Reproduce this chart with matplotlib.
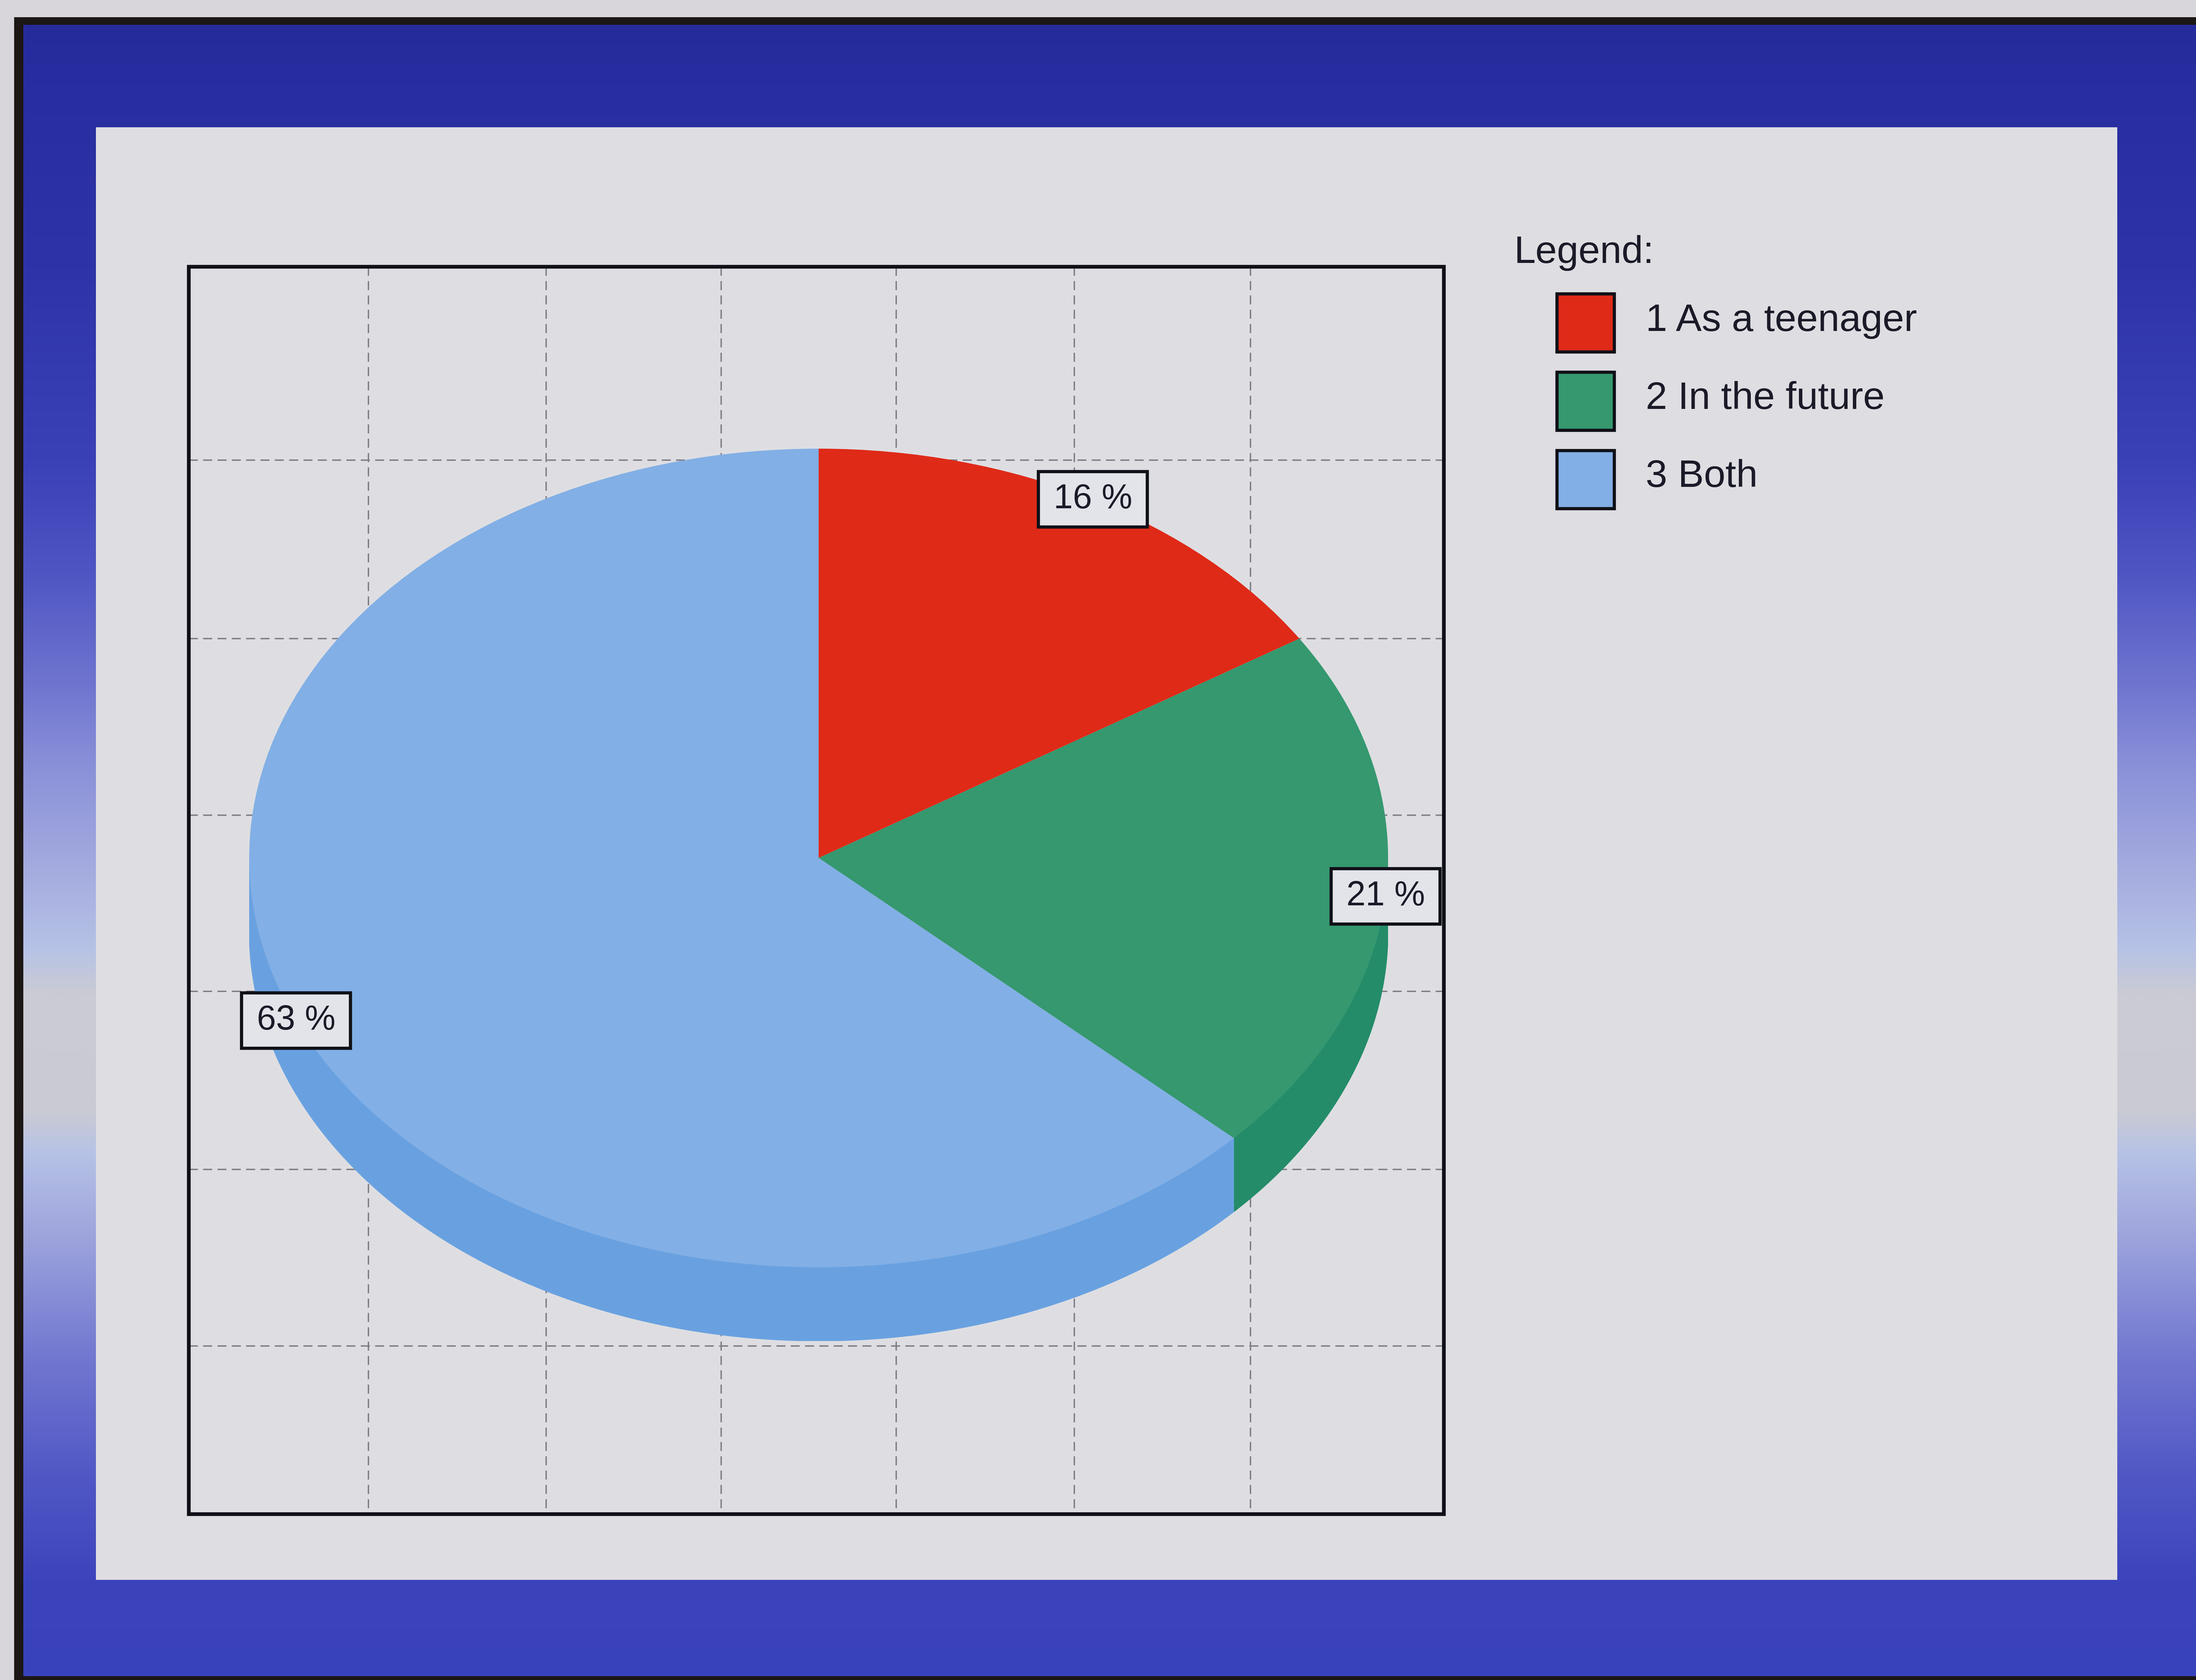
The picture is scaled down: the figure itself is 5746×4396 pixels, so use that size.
import numpy as np
import matplotlib
matplotlib.use("Agg")
import matplotlib.pyplot as plt
from matplotlib.patches import Rectangle, Polygon
from matplotlib.colors import to_rgb

# ---------------- data ----------------
categories = ["1 As a teenager", "2 In the future", "3 Both"]
values = [16, 21, 63]
pct_labels = [f"{v} %" for v in values]
top_colors = ["#df2a18", "#35986f", "#82afe5"]
side_colors = ["#c42212", "#248c69", "#69a1e0"]
legend_title = "Legend:"

# ---------------- figure ----------------
W, H = 5746, 4396
plt.rcParams["font.family"] = ["Liberation Sans", "DejaVu Sans"]
plt.rcParams["lines.scale_dashes"] = False
fig = plt.figure(figsize=(W / 100, H / 100), dpi=100)

bg = fig.add_axes([0, 0, 1, 1])
bg.set_xlim(0, W)
bg.set_ylim(H, 0)
bg.axis("off")

# photo surroundings
bg.add_patch(Rectangle((0, 0), W, H, facecolor="#d8d6da", edgecolor="none", zorder=0))

# blue frame gradient (vertical)
stops = [
    (60, "#262b9c"), (700, "#2e34a8"), (1200, "#3a40b6"), (1500, "#4f56c4"),
    (1800, "#7076cf"), (2000, "#8a90d8"), (2300, "#a6aee0"), (2480, "#b6c2e6"),
    (2600, "#cacbd4"), (2900, "#cbcbd2"), (3020, "#b6c2e6"), (3200, "#a2a9de"),
    (3550, "#7278d0"), (3850, "#5259c6"), (4136, "#3c44bc"), (4396, "#3842ba"),
]
sy = np.array([s[0] for s in stops], float)
sc = np.array([to_rgb(s[1]) for s in stops])
yy = np.linspace(60, H, 800)
grad = np.stack([np.interp(yy, sy, sc[:, k]) for k in range(3)], axis=-1)
bg.imshow(grad[:, None, :], extent=(55, W, H, 60), aspect="auto",
          interpolation="bilinear", zorder=1)

# dark screen edges
edge_c = "#1c1614"
bg.add_patch(Rectangle((37, 45), W, 20, facecolor=edge_c, edgecolor="none", zorder=2))
bg.add_patch(Rectangle((37, 45), 24, H, facecolor=edge_c, edgecolor="none", zorder=2))
bg.add_patch(Rectangle((37, 4386), W, 12, facecolor=edge_c, edgecolor="none", zorder=2))

# inner panel
bg.add_patch(Rectangle((251, 333), 5540 - 251, 4134 - 333, facecolor="#dedee2",
                       edgecolor="none", zorder=3))

# plot box with dashed grid
bx0, bx1, by0, by1 = 494, 3778, 698, 3962
vx = [964, 1429, 1887, 2345, 2811, 3272]
hy = [1204, 1671, 2133, 2594, 3060, 3522]
grid_style = (0, (17, 10))
bg.vlines(vx, by0, by1, colors="#7c7c84", linestyles=[grid_style], linewidth=2.6, zorder=4)
bg.hlines(hy, bx0, bx1, colors="#7c7c84", linestyles=[grid_style], linewidth=2.6, zorder=4)
bg.add_patch(Rectangle((bx0, by0), bx1 - bx0, by1 - by0, facecolor="none",
                       edgecolor="#101018", linewidth=7, zorder=5))

# legend
txt_c = "#1a1a28"
bg.text(3962, 688, legend_title, fontsize=73, color=txt_c, ha="left", va="baseline", zorder=6)
for i, (cat, col) in enumerate(zip(categories, top_colors)):
    bg.add_patch(Rectangle((4074, 769 + 205 * i), 150, 152, facecolor=col,
                           edgecolor="#101018", linewidth=6, zorder=6))
    bg.text(4306, 866 + 204 * i, cat, fontsize=73, color=txt_c, ha="left",
            va="baseline", zorder=6)

# ---------------- 3D pie ----------------
RX, RY, DEPTH = 1490.0, 1071.0, 193.0
cx, cy = 2142.0, 2245.0
d = DEPTH / RY
pax = fig.add_axes([(cx - RX) / W, 1 - (cy + RY + DEPTH) / H,
                    2 * RX / W, (2 * RY + DEPTH) / H], zorder=2)
pax.patch.set_visible(False)

pax.pie(values, colors=top_colors, startangle=90, counterclock=False, radius=1,
        wedgeprops=dict(linewidth=0, zorder=2))
pax.set_aspect("auto")
pax.set_xlim(-1, 1)
pax.set_ylim(-1 - d, 1)
pax.axis("off")

fracs = np.array(values, float) / np.sum(values)
edges = 90 - 360 * np.concatenate([[0], np.cumsum(fracs)])
for i in range(len(values)):
    hi, lo = edges[i], edges[i + 1]
    for a0, a1 in [(-180, 0), (-540, -360), (180, 360)]:
        s, e = max(lo, a0), min(hi, a1)
        if e > s:
            t = np.radians(np.linspace(s, e, 300))
            xs, ys = np.cos(t), np.sin(t)
            verts = np.vstack([np.column_stack([xs, ys]),
                               np.column_stack([xs[::-1], ys[::-1] - d])])
            pax.add_patch(Polygon(verts, closed=True, facecolor=side_colors[i],
                                  edgecolor=side_colors[i], linewidth=1, zorder=1))

# percentage labels on the rim at mid-angles
bw, bh = 285 / RX, 145 / RY
mids = (edges[:-1] + edges[1:]) / 2
for lab, m in zip(pct_labels, mids):
    x, y = np.cos(np.radians(m)), np.sin(np.radians(m))
    pax.add_patch(Rectangle((x - bw / 2, y - bh / 2), bw, bh, facecolor="#e3e4e9",
                            edgecolor="#101018", linewidth=6, zorder=5, clip_on=False))
    pax.text(x, y, lab, fontsize=65, color=txt_c, ha="center", va="center",
             zorder=6, clip_on=False)

fig.savefig("out.png", dpi=100)
